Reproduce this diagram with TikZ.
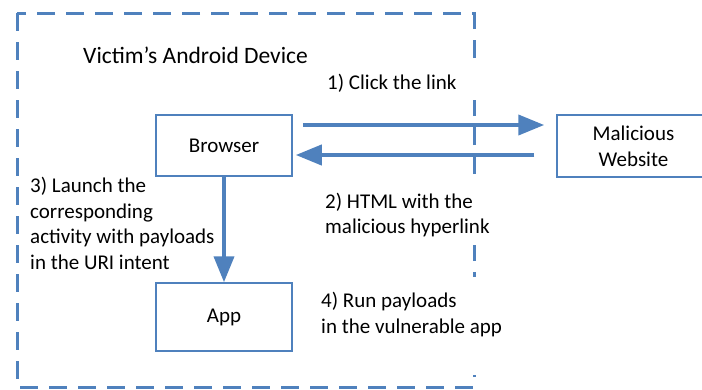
\documentclass[tikz,border=0pt]{standalone}
\usepackage{fontspec}
\setmainfont{Carlito}
\usetikzlibrary{arrows.meta}
\definecolor{ofblue}{RGB}{79,129,189}
\begin{document}
\begin{tikzpicture}[x=1pt,y=-1pt,
  box/.style={draw=ofblue,line width=1.5pt,fill=white},
  arr/.style={draw=ofblue,line width=4pt,-{Triangle[length=26pt,width=20pt]}},
  lbl/.style={inner sep=0pt,align=left,font=\fontsize{21}{25.7}\selectfont},
  every node/.style={font=\fontsize{21}{25.7}\selectfont}]
\useasboundingbox (0,0) rectangle (702,389);
\node[box,minimum width=136pt,minimum height=61pt] (browser) at (224,145.5) {Browser};
\node[box,minimum width=136pt,minimum height=68pt] (app) at (224,317) {App};
\node[box,minimum width=153pt,minimum height=62pt,align=center] (site) at (633.5,146) {Malicious\\Website};
\draw[arr] ([shift={(10,-20.5)}]browser.east) -- ([shift={(-12,-21)}]site.west);
\draw[arr] ([shift={(-22,9)}]site.west) -- ([shift={(3,9.5)}]browser.east);
\draw[arr] (browser.south) -- (app.north);
\draw[ofblue,line width=3pt,dash pattern=on 18pt off 11pt] (17,13) rectangle (474,387);
% white text-box backgrounds that hide the dashed frame
\fill[white] (320,64) rectangle (482,100);
\fill[white] (318,185) rectangle (496,245);
\fill[white] (314,277) rectangle (510,375);
\node[inner sep=0pt,anchor=west,font=\fontsize{23.5}{28}\selectfont] (title) at (83,55) {Victim’s Android Device};
\node[lbl,anchor=west] (l1) at (327,83) {1) Click the link};
\node[lbl,anchor=west] (l2) at (325,215) {2) HTML with the\\malicious hyperlink};
\node[lbl,anchor=west] (l3) at (30,223.5) {3) Launch the\\corresponding\\activity with payloads\\in the URI intent};
\node[lbl,anchor=west] (l4) at (321,314.5) {4) Run payloads\\in the vulnerable app};
\end{tikzpicture}
\end{document}
